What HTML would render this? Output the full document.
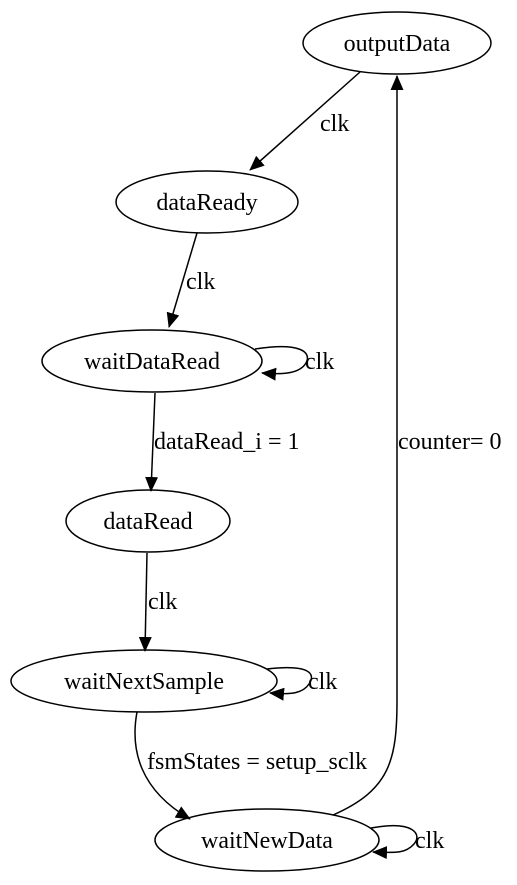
<!DOCTYPE html>
<html><head><meta charset="utf-8"><style>
html,body{margin:0;padding:0;background:#fff;}
svg{display:block;}
text{font-family:"Liberation Serif",serif;font-size:24px;fill:#000;}
</style></head><body>
<svg width="517" height="885" viewBox="0 0 517 885" xmlns="http://www.w3.org/2000/svg">
<defs>
<marker id="b" markerWidth="15" markerHeight="13" refX="14" refY="6.5" orient="auto" markerUnits="userSpaceOnUse" viewBox="0 0 15 13"><path d="M0,0 L15,6.5 L0,13 Z" fill="#000"/></marker></defs>
<g fill="none" stroke="#000" stroke-width="1.5">
<ellipse cx="397" cy="43" rx="94" ry="31"/>
<ellipse cx="207" cy="202" rx="91" ry="31"/>
<ellipse cx="152" cy="361" rx="110" ry="31"/>
<ellipse cx="148" cy="521" rx="82" ry="31"/>
<ellipse cx="144" cy="681" rx="133" ry="31"/>
<ellipse cx="267" cy="840" rx="112" ry="31"/>
<path d="M360,72 L250,170" marker-end="url(#b)"/>
<path d="M197,233 L169,327" marker-end="url(#b)"/>
<path d="M255,349 C300,342 312,352 306,363 C300,373 285,375 262,373" marker-end="url(#b)"/>
<path d="M155,393 L151,491" marker-end="url(#b)"/>
<path d="M147,553 L145,651" marker-end="url(#b)"/>
<path d="M267,669 C310,664 316,674 309,684 C303,693 292,695 270,693" marker-end="url(#b)"/>
<path d="M137,712 C130,750 140,790 190,819" marker-end="url(#b)"/>
<path d="M371,828 C415,820 422,835 414,844 C406,853 398,853 373,852" marker-end="url(#b)"/>
<path d="M333,815 C390,790 397,760 397,700 L397,76" marker-end="url(#b)"/>
</g>
<text x="320" y="131">clk</text>
<text x="186" y="289">clk</text>
<text x="305" y="369">clk</text>
<text x="154" y="449">dataRead_i = 1</text>
<text x="148" y="609">clk</text>
<text x="308" y="689">clk</text>
<text x="147" y="769">fsmStates = setup_sclk</text>
<text x="398" y="449">counter= 0</text>
<text x="415" y="848">clk</text>
<g text-anchor="middle">
<text x="397" y="51">outputData</text>
<text x="207" y="210">dataReady</text>
<text x="152" y="369">waitDataRead</text>
<text x="148" y="529">dataRead</text>
<text x="144" y="689">waitNextSample</text>
<text x="267" y="848">waitNewData</text>
</g>
</svg>
</body></html>
